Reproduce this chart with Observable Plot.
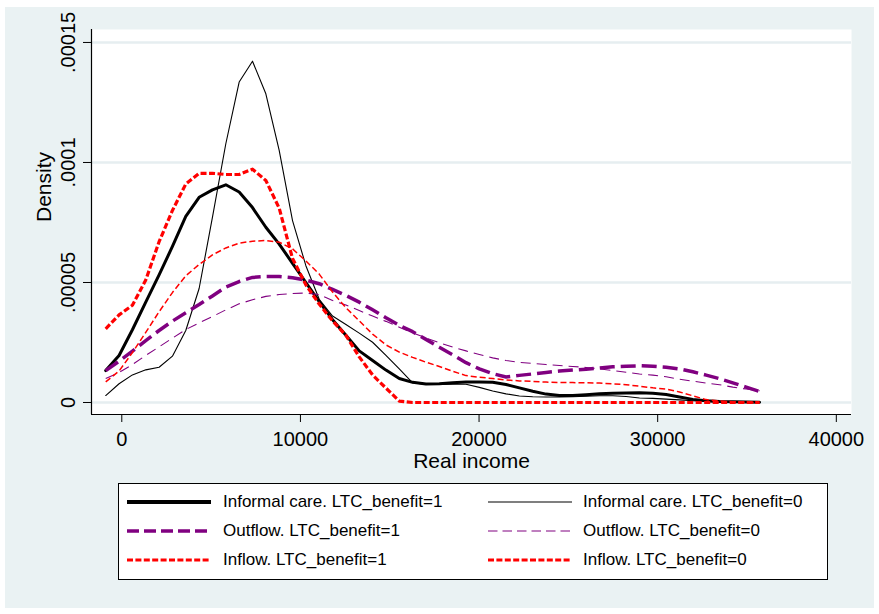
<!DOCTYPE html>
<html><head><meta charset="utf-8">
<script src="https://cdn.jsdelivr.net/npm/d3@7"></script>
<script src="https://cdn.jsdelivr.net/npm/@observablehq/plot@0.6"></script>
<style>
html,body{margin:0;padding:0;background:#fff;}
#page{position:relative;width:879px;height:614px;overflow:hidden;font-family:"Liberation Sans",Arial,sans-serif;}
#bg{position:absolute;left:5px;top:7px;width:869px;height:601px;background:#eaf2f3;}
#chart{position:absolute;left:0;top:0;}
#legend{position:absolute;left:118px;top:483px;width:708px;height:95px;border:1px solid #000;background:#fff;}
.key{position:absolute;}
.lab{position:absolute;height:20px;line-height:20px;font-size:17px;color:#000;white-space:nowrap;}
</style></head>
<body><div id="page"><div id="bg"></div><div id="chart"></div><div id="legend"></div></div>
<script>
// Evaluation grid (Real income)
const xGrid = [-900, -153, 594, 1341, 2088, 2835, 3582, 4329, 5076, 5823,
  6570, 7317, 8064, 8811, 9558, 10305, 11052, 11799, 12546, 13293,
  14040, 14787, 15534, 16281, 17028, 17775, 18522, 19269, 20016, 20763,
  21510, 22257, 23004, 23751, 24498, 25245, 25992, 26739, 27486, 28233,
  28980, 29727, 30474, 31221, 31968, 32715, 33462, 34209, 34956, 35703];

// Densities, in units of 1e-5
const informal1 = [1.33, 1.96, 3.03, 4.18, 5.32, 6.5, 7.75, 8.55, 8.86, 9.07,
  8.77, 8.12, 7.3, 6.6, 5.8, 5.0, 4.2, 3.45, 2.8, 2.15,
  1.75, 1.35, 1.0, 0.84, 0.77, 0.78, 0.82, 0.85, 0.85, 0.84,
  0.75, 0.61, 0.47, 0.35, 0.29, 0.29, 0.32, 0.36, 0.39, 0.4,
  0.41, 0.39, 0.33, 0.23, 0.13, 0.07, 0.04, 0.03, 0.02, 0.01];
const informal0 = [0.29, 0.78, 1.15, 1.36, 1.47, 1.93, 3.0, 4.75, 7.72, 10.78,
  13.35, 14.22, 12.86, 10.5, 7.58, 5.7, 4.3, 3.6, 3.25, 2.89,
  2.51, 1.96, 1.4, 0.82, 0.75, 0.75, 0.76, 0.76, 0.63, 0.48,
  0.36, 0.27, 0.24, 0.23, 0.23, 0.24, 0.26, 0.28, 0.28, 0.25,
  0.19, 0.17, 0.14, 0.11, 0.07, 0.04, 0.02, 0.01, 0.01, 0.0];
const outflow1 = [1.33, 1.72, 2.14, 2.58, 3.0, 3.39, 3.74, 4.08, 4.44, 4.81,
  5.04, 5.21, 5.25, 5.25, 5.2, 5.1, 4.95, 4.71, 4.46, 4.18,
  3.86, 3.53, 3.22, 2.95, 2.63, 2.3, 1.99, 1.66, 1.4, 1.2,
  1.06, 1.13, 1.19, 1.25, 1.31, 1.35, 1.39, 1.44, 1.49, 1.51,
  1.53, 1.51, 1.47, 1.4, 1.28, 1.14, 0.99, 0.82, 0.64, 0.46];
const outflow0 = [1.0, 1.25, 1.58, 1.96, 2.32, 2.68, 3.04, 3.32, 3.58, 3.86,
  4.11, 4.28, 4.42, 4.5, 4.54, 4.56, 4.5, 4.25, 4.06, 3.83,
  3.6, 3.38, 3.14, 2.9, 2.69, 2.49, 2.31, 2.15, 2.0, 1.86,
  1.75, 1.67, 1.63, 1.58, 1.54, 1.5, 1.46, 1.4, 1.33, 1.26,
  1.19, 1.14, 1.07, 0.97, 0.89, 0.81, 0.74, 0.64, 0.56, 0.49];
const inflow1 = [3.07, 3.65, 4.05, 5.1, 6.7, 8.0, 9.1, 9.55, 9.55, 9.5,
  9.5, 9.72, 9.25, 8.1, 6.0, 4.9, 4.1, 3.4, 2.8, 1.9,
  1.15, 0.6, 0.06, 0, 0, 0, 0, 0, 0, 0,
  0, 0, 0, 0, 0, 0, 0, 0, 0, 0,
  0, 0, 0, 0, 0, 0, 0, 0, 0, 0];
const inflow0 = [0.86, 1.31, 2.08, 2.92, 3.78, 4.58, 5.28, 5.75, 6.15, 6.44,
  6.64, 6.72, 6.75, 6.68, 6.4, 5.9, 5.35, 4.6, 3.95, 3.4,
  2.85, 2.4, 2.1, 1.88, 1.68, 1.5, 1.3, 1.12, 1.05, 1.0,
  0.94, 0.9, 0.88, 0.85, 0.83, 0.83, 0.82, 0.81, 0.78, 0.74,
  0.68, 0.61, 0.56, 0.44, 0.28, 0.12, 0.06, 0.03, 0.01, 0];
const unit = 1e-5;

const seriesNames = ["Informal care. LTC_benefit=1", "Informal care. LTC_benefit=0",
  "Outflow. LTC_benefit=1", "Outflow. LTC_benefit=0",
  "Inflow. LTC_benefit=1", "Inflow. LTC_benefit=0"];
const seriesValues = [informal1, informal0, outflow1, outflow0, inflow1, inflow0];

const xTicks = [0, 10000, 20000, 30000, 40000];
const yTicks = [0, 0.00005, 0.0001, 0.00015];
const yTickLabels = ["0", ".00005", ".0001", ".00015"];
const xLabel = "Real income";
const yLabel = "Density";

// styles
const purple = "#800080", red = "#ff0000";
const styles = [
  {stroke: "black", strokeWidth: 3, dash: null},
  {stroke: "black", strokeWidth: 1.1, dash: null},
  {stroke: purple, strokeWidth: 3.5, dash: "15,6"},
  {stroke: purple, strokeWidth: 1.1, dash: "10,6"},
  {stroke: red, strokeWidth: 3.2, dash: "6,2.5"},
  {stroke: red, strokeWidth: 1.5, dash: "6,3"}
];
const legendStyles = [
  {stroke: "black", strokeWidth: 4, dash: null},
  {stroke: "black", strokeWidth: 1.2, dash: null},
  {stroke: purple, strokeWidth: 3.5, dash: "12,5"},
  {stroke: purple, strokeWidth: 1.2, dash: "9.5,5"},
  {stroke: red, strokeWidth: 3, dash: "6,2.4"},
  {stroke: red, strokeWidth: 3, dash: "6,2.4"}
];

const rows = [];
seriesNames.forEach((name, s) => {
  seriesValues[s].forEach((v, i) => rows.push({series: name, x: xGrid[i], y: v * unit}));
});

const xDomain = [-1696, 40850];
const yDomain = [-0.000005, 0.0001554];

const lineMarks = seriesNames.map((name, s) => Plot.line(rows.filter(d => d.series === name), {
  x: "x", y: "y", stroke: styles[s].stroke, strokeWidth: styles[s].strokeWidth,
  strokeDasharray: styles[s].dash || undefined,
  strokeLinecap: styles[s].dash ? "butt" : "round", strokeLinejoin: "round"
}));

const chart = Plot.plot({
  width: 879, height: 470,
  marginLeft: 91, marginRight: 28, marginTop: 29, marginBottom: 56,
  style: {background: "transparent", fontFamily: "'Liberation Sans', Arial, sans-serif", fontSize: "20px", color: "#000", overflow: "visible"},
  x: {domain: xDomain},
  y: {domain: yDomain},
  marks: [
    Plot.frame({fill: "white", stroke: null}),
    Plot.gridY(yTicks, {stroke: "#e6eef0", strokeOpacity: 1, strokeWidth: 2.5}),
    Plot.axisX(xTicks, {tickSize: 8, tickPadding: 9.5, tickFormat: d => String(d), fontSize: 20, label: null}),
    Plot.axisY(yTicks, {tickSize: 8, tickPadding: 9, tickRotate: -90, tickFormat: d => yTickLabels[yTicks.indexOf(d)], fontSize: 20, label: null}),
    Plot.ruleX([xDomain[0]], {stroke: "black", strokeWidth: 1.2}),
    Plot.ruleY([yDomain[0]], {stroke: "black", strokeWidth: 1.2}),
    ...lineMarks,
    Plot.text([xLabel], {text: d => d, frameAnchor: "bottom", dy: 53, lineAnchor: "bottom", fontSize: 21}),
    Plot.text([yLabel], {text: d => d, frameAnchor: "left", dx: -41, rotate: -90, lineAnchor: "bottom", fontSize: 21})
  ]
});
document.getElementById("chart").appendChild(chart);

// Legend
const legend = document.getElementById("legend");
const colLine = [8, 369], colText = [104, 464], rowC = [17.7, 46.7, 76];
seriesNames.forEach((name, s) => {
  const c = s % 2, r = Math.floor(s / 2);
  const st = legendStyles[s];
  const svgNS = "http://www.w3.org/2000/svg";
  const svg = document.createElementNS(svgNS, "svg");
  svg.setAttribute("width", 86); svg.setAttribute("height", 10);
  svg.setAttribute("class", "key");
  svg.style.left = colLine[c] + "px"; svg.style.top = (rowC[r] - 5) + "px";
  const ln = document.createElementNS(svgNS, "line");
  ln.setAttribute("x1", 0); ln.setAttribute("x2", 84); ln.setAttribute("y1", 5); ln.setAttribute("y2", 5);
  ln.setAttribute("stroke", st.stroke); ln.setAttribute("stroke-width", st.strokeWidth);
  if (st.dash) ln.setAttribute("stroke-dasharray", st.dash);
  svg.appendChild(ln);
  legend.appendChild(svg);
  const t = document.createElement("div");
  t.className = "lab"; t.textContent = name;
  t.style.left = colText[c] + "px"; t.style.top = (rowC[r] - 10) + "px";
  legend.appendChild(t);
});
</script>
</body></html>
